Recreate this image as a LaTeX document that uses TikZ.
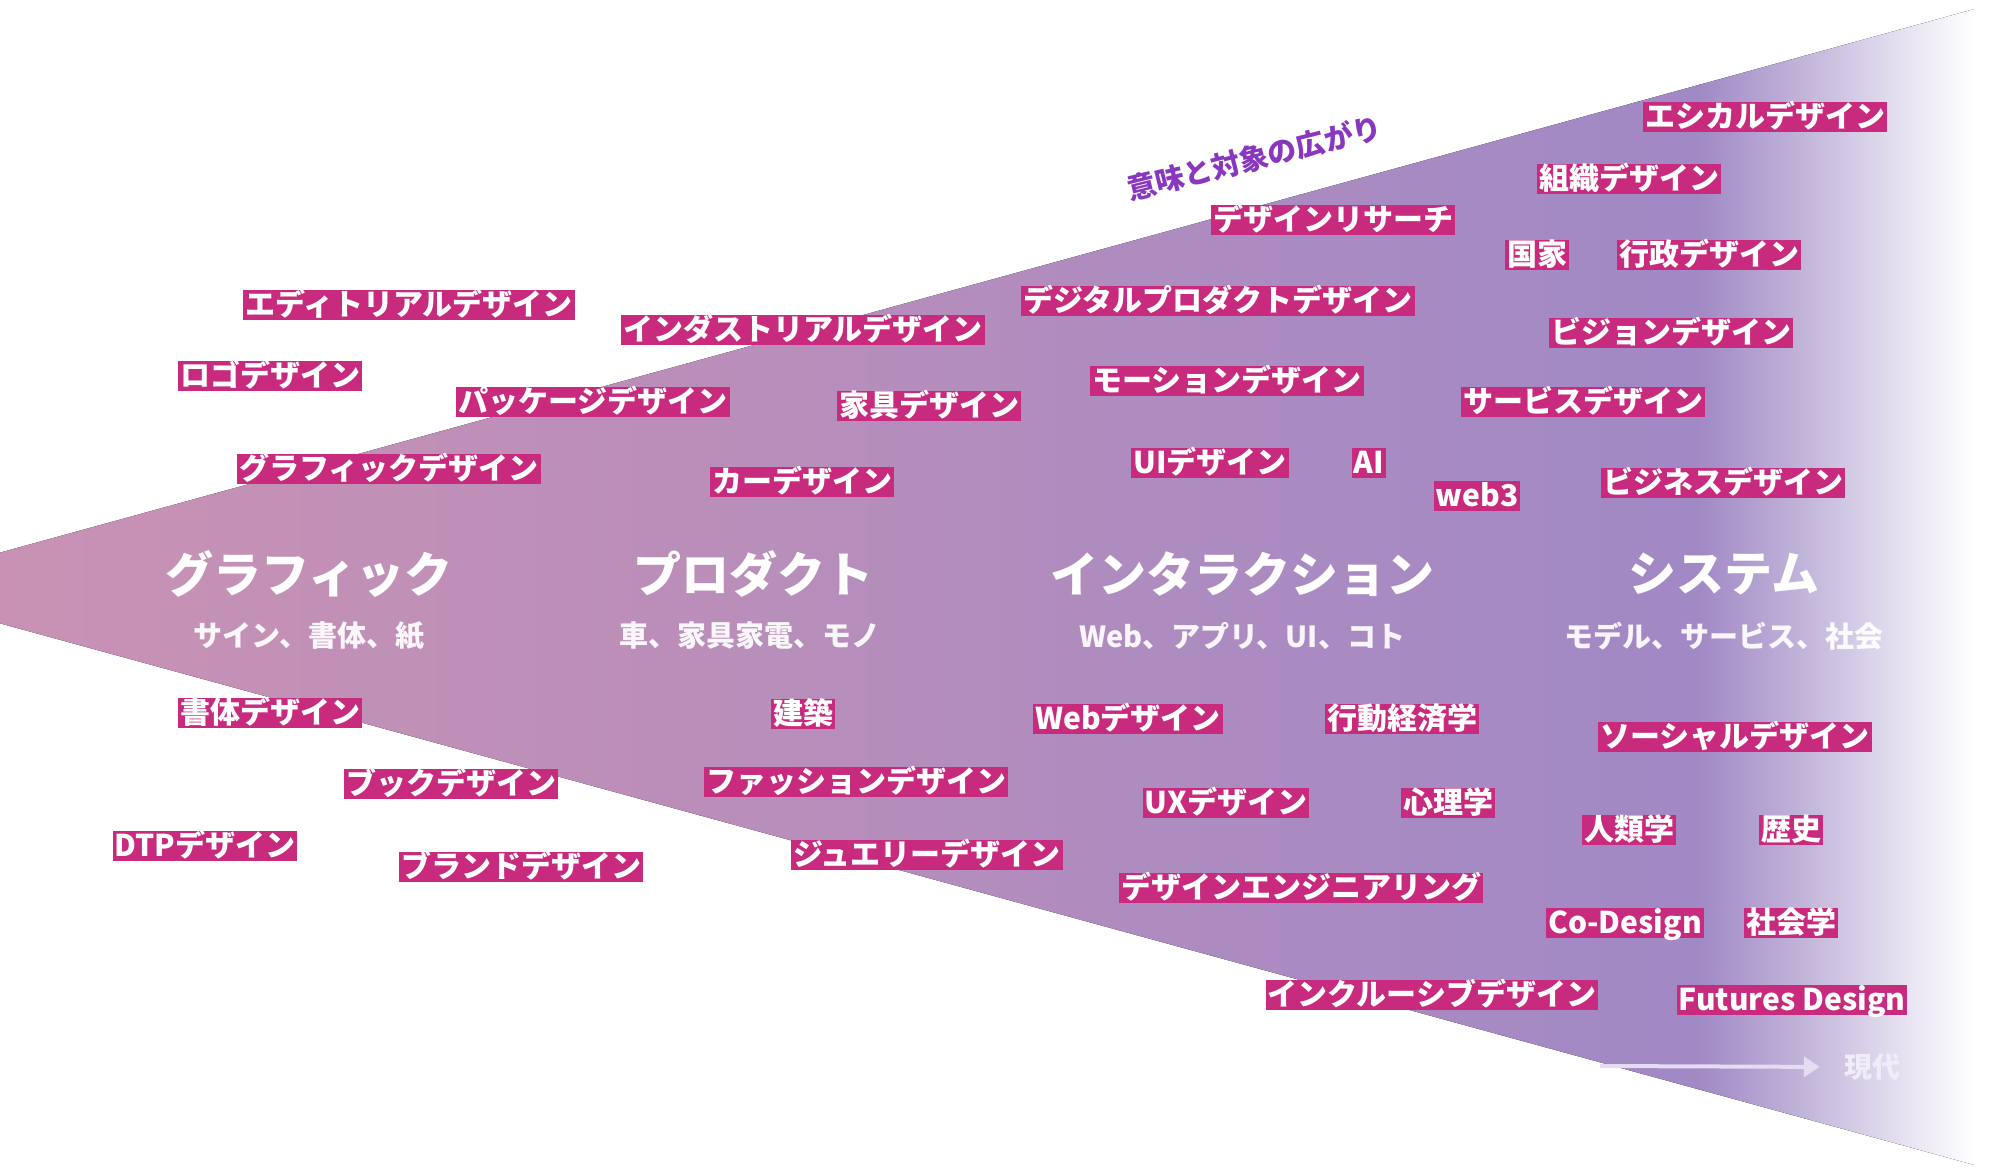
\documentclass[tikz,border=0pt]{standalone}
\usepackage{fontspec}
\usetikzlibrary{arrows.meta}
\newfontfamily\jp{Noto Sans CJK JP}
\definecolor{mag}{HTML}{C82A7E}
\definecolor{g0}{HTML}{C992B4}
\definecolor{g1}{HTML}{BA8EB9}
\definecolor{g2}{HTML}{AA8BC1}
\definecolor{g3}{HTML}{A189C5}
\definecolor{g4}{HTML}{C2B5DA}
\definecolor{g5}{HTML}{E5E0F0}
\definecolor{capc}{HTML}{8A37C0}
\definecolor{arr}{HTML}{E4DCF1}
\definecolor{nowc}{HTML}{F1EDF8}
\tikzset{
  lbl/.style={fill=mag, text=white, font=\jp\bfseries\fontsize{30}{30}\selectfont,
    inner xsep=2pt, inner ysep=1pt, text height=25pt, text depth=3.5pt},
  head/.style={text=white, font=\jp\bfseries\fontsize{48}{48}\selectfont, inner sep=0pt},
  sub/.style={text=white, text opacity=0.92, font=\jp\bfseries\fontsize{29}{29}\selectfont, inner sep=0pt},
}
\begin{document}
\begin{tikzpicture}[x=1pt,y=-1pt]
\useasboundingbox (0,0) rectangle (2000,1174);
% wedge with gradient
\begin{scope}
  \clip (-5,554) -- (2000,2) -- (2000,1172) -- (-5,622) -- cycle;
  \fill[left color=g0, right color=g1] (-5,0) rectangle (700,1174);
  \fill[left color=g1, right color=g2] (699,0) rectangle (1300,1174);
  \fill[left color=g2, right color=g3] (1299,0) rectangle (1700,1174);
  \fill[left color=g3, right color=g4] (1699,0) rectangle (1805,1174);
  \fill[left color=g4, right color=g5] (1804,0) rectangle (1900,1174);
  \fill[left color=g5, right color=white] (1899,0) rectangle (1975,1174);
  \fill[white] (1974,0) rectangle (2000,1174);
\end{scope}
% rotated caption
\node[rotate=14, inner sep=0pt, text=capc, font=\jp\bfseries\fontsize{29}{29}\selectfont] (cap) at (1254,158) {意味と対象の広がり};
% headings
\node[head] (h1) at (309,574) {グラフィック};
\node[sub]  (s1) at (309,636) {サイン、書体、紙};
\node[head] (h2) at (753,574) {プロダクト};
\node[sub]  (s2) at (750,636) {車、家具家電、モノ};
\node[head] (h3) at (1242,574) {インタラクション};
\node[sub]  (s3) at (1242,636) {Web、アプリ、UI、コト};
\node[head] (h4) at (1724,574) {システム};
\node[sub]  (s4) at (1724,636) {モデル、サービス、社会};
% labels
\node[lbl] (l1) at (1765,117) {エシカルデザイン};
\node[lbl] (l2) at (1629,179) {組織デザイン};
\node[lbl] (l3) at (1333,220) {デザインリサーチ};
\node[lbl] (l4) at (1537,255) {国家};
\node[lbl] (l5) at (1709,255) {行政デザイン};
\node[lbl] (l6) at (409,305) {エディトリアルデザイン};
\node[lbl] (l7) at (803,330) {インダストリアルデザイン};
\node[lbl] (l8) at (1218,301) {デジタルプロダクトデザイン};
\node[lbl] (l9) at (1671,333) {ビジョンデザイン};
\node[lbl] (l10) at (270,376) {ロゴデザイン};
\node[lbl] (l11) at (593,402) {パッケージデザイン};
\node[lbl] (l12) at (929,406) {家具デザイン};
\node[lbl] (l13) at (1227,381) {モーションデザイン};
\node[lbl] (l14) at (1583,402) {サービスデザイン};
\node[lbl] (l15) at (389,469) {グラフィックデザイン};
\node[lbl] (l16) at (802,482) {カーデザイン};
\node[lbl] (l17) at (1210,463) {UIデザイン};
\node[lbl] (l18) at (1369,463) {AI};
\node[lbl] (l19) at (1477,496) {web3};
\node[lbl] (l20) at (1723,483) {ビジネスデザイン};
\node[lbl] (l21) at (270,713) {書体デザイン};
\node[lbl] (l22) at (803,714) {建築};
\node[lbl] (l23) at (1128,719) {Webデザイン};
\node[lbl] (l24) at (1402,719) {行動経済学};
\node[lbl] (l25) at (1735,737) {ソーシャルデザイン};
\node[lbl] (l26) at (451,784) {ブックデザイン};
\node[lbl] (l27) at (856,782) {ファッションデザイン};
\node[lbl] (l28) at (1226,803) {UXデザイン};
\node[lbl] (l29) at (1448,803) {心理学};
\node[lbl] (l30) at (1629,830) {人類学};
\node[lbl] (l31) at (1791,830) {歴史};
\node[lbl] (l32) at (205,846) {DTPデザイン};
\node[lbl] (l33) at (521,867) {ブランドデザイン};
\node[lbl] (l34) at (927,855) {ジュエリーデザイン};
\node[lbl] (l35) at (1301,888) {デザインエンジニアリング};
\node[lbl] (l36) at (1625,923) {Co-Design};
\node[lbl] (l37) at (1791,923) {社会学};
\node[lbl] (l38) at (1432,995) {インクルーシブデザイン};
\node[lbl] (l39) at (1792,1000) {Futures Design};
% time arrow
\coordinate (arrS) at (1600,1066);
\node[text=nowc, font=\jp\bfseries\fontsize{28}{28}\selectfont, inner sep=0pt] (now) at (1872,1067) {現代};
\draw[arr, line width=4pt, -{Triangle[length=16pt,width=20pt]}, shorten >=24pt] (arrS) -- (now.west);
\end{tikzpicture}
\end{document}
